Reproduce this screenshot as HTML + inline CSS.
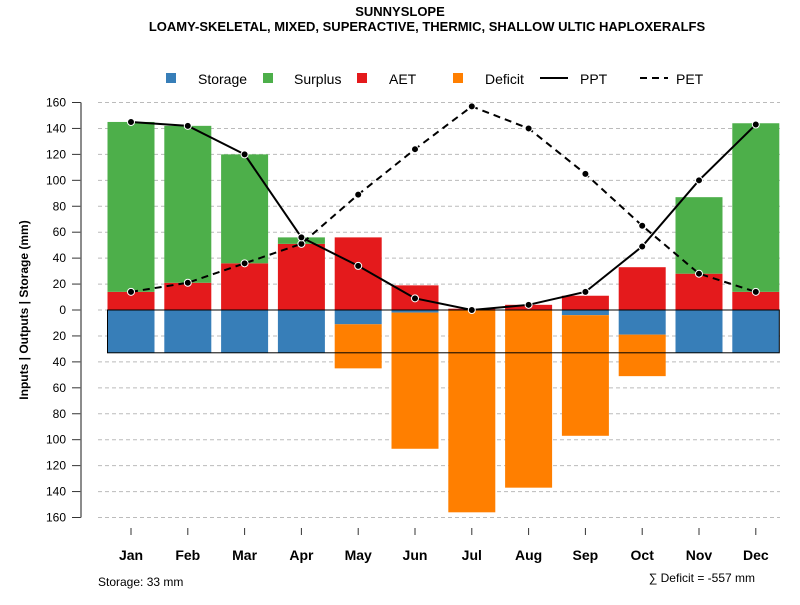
<!DOCTYPE html>
<html><head><meta charset="utf-8"><style>
body{margin:0;background:#fff;}
svg text{font-family:"Liberation Sans",sans-serif;}
</style></head><body>
<svg id="c" width="800" height="600" xmlns="http://www.w3.org/2000/svg">
<text x="400" y="16" text-anchor="middle" font-size="13" font-weight="bold">SUNNYSLOPE</text>
<text x="427" y="31" text-anchor="middle" font-size="13" font-weight="bold">LOAMY-SKELETAL, MIXED, SUPERACTIVE, THERMIC, SHALLOW ULTIC HAPLOXERALFS</text>
<g>
<rect x="166" y="73" width="10" height="10" fill="#377eb8"/>
<text x="198" y="84" font-size="14">Storage</text>
<rect x="263" y="73" width="10" height="10" fill="#4daf4a"/>
<text x="294" y="84" font-size="14">Surplus</text>
<rect x="357" y="73" width="10" height="10" fill="#e41a1c"/>
<text x="389" y="84" font-size="14">AET</text>
<rect x="453" y="73" width="10" height="10" fill="#ff7f00"/>
<text x="485" y="84" font-size="14">Deficit</text>
<line x1="540" y1="78" x2="568" y2="78" stroke="#000" stroke-width="2"/>
<text x="580" y="84" font-size="14">PPT</text>
<line x1="640" y1="78" x2="668" y2="78" stroke="#000" stroke-width="2" stroke-dasharray="7,5"/>
<text x="676" y="84" font-size="14">PET</text>
</g>
<text transform="translate(28,310) rotate(-90)" text-anchor="middle" font-size="12" font-weight="bold">Inputs | Outputs | Storage    (mm)</text>
<text x="98" y="586" font-size="12">Storage: 33 mm</text>
<text x="755" y="582" text-anchor="end" font-size="12">∑ Deficit = -557 mm</text>
<g id="plot"></g>
</svg>
<script>
const months=["Jan","Feb","Mar","Apr","May","Jun","Jul","Aug","Sep","Oct","Nov","Dec"];
const ppt=[145,142,120,56,34,9,0,4,14,49,100,143];
const pet=[14,21,36,51,89,124,157,140,105,65,28,14];
const aet=[14,21,36,51,56,19,1,4,11,33,28,14];
const surplus=[131,121,84,5,0,0,0,0,0,0,59,130];
const storage=[33,33,33,33,11,2,0,0,4,19,33,33];
const deficit=[0,0,0,0,34,105,156,137,93,32,0,0];
const yTicks=[160,140,120,100,80,60,40,20,0,20,40,60,80,100,120,140,160];
const storageCap=33;
const NS="http://www.w3.org/2000/svg";
const g=document.getElementById('plot');
const y=v=>310-v*415/320;
const x=i=>131+i*56.8;
const bw=47;
function el(t,a){const e=document.createElementNS(NS,t);for(const k in a)e.setAttribute(k,a[k]);g.appendChild(e);return e;}
yTicks.forEach((t,i)=>{
  const v=160-i*20, yy=y(v);
  const gl=el('line',{x1:98,x2:780,y1:yy,y2:yy,stroke:'#bbb','stroke-dasharray':'4,3'});
  
  
  const tk=el('line',{x1:72,x2:81,y1:yy,y2:yy,stroke:'#333'});
  
  
  const tl=el('text',{x:66,y:yy+4,'text-anchor':'end','font-size':12});
  tl.textContent=t;
  
  
});
const ax=el('line',{x1:81,x2:81,y1:y(160),y2:y(-160),stroke:'#666','stroke-width':1.5});


function bar(i,v0,v1,col,name){
  if(v1===v0)return;
  const r=el('rect',{x:x(i)-bw/2,y:Math.min(y(v0),y(v1)),width:bw,height:Math.abs(y(v1)-y(v0)),fill:col});
  
  
}
months.forEach((m,i)=>{
  bar(i,0,aet[i],'#e41a1c','bar-aet-'+m.toLowerCase());
  bar(i,aet[i],aet[i]+surplus[i],'#4daf4a','bar-surplus-'+m.toLowerCase());
  bar(i,0,-storage[i],'#377eb8','bar-storage-'+m.toLowerCase());
  bar(i,-storage[i],-storage[i]-deficit[i],'#ff7f00','bar-deficit-'+m.toLowerCase());
  const t=el('line',{x1:x(i),x2:x(i),y1:528,y2:535,stroke:'#333'});
  
  
  const l=el('text',{x:x(i),y:560,'text-anchor':'middle','font-size':14,'font-weight':'bold'});
  l.textContent=m;
  
  
});
const sr=el('rect',{x:x(0)-bw/2,y:y(0),width:x(11)-x(0)+bw,height:y(-storageCap)-y(0),fill:'none',stroke:'#000','stroke-width':1});


function series(arr,dash,name){
  const p=el('polyline',{points:arr.map((v,i)=>x(i)+','+y(v)).join(' '),fill:'none',stroke:'#000','stroke-width':2,'stroke-dasharray':dash});
  
  
  arr.forEach((v,i)=>{
    const c=el('circle',{cx:x(i),cy:y(v),r:3.5,fill:'#000',stroke:'#fff','stroke-width':1});
    
    
  });
}
series(pet,'7,5','pet');
series(ppt,'none','ppt');
</script>
</body></html>
